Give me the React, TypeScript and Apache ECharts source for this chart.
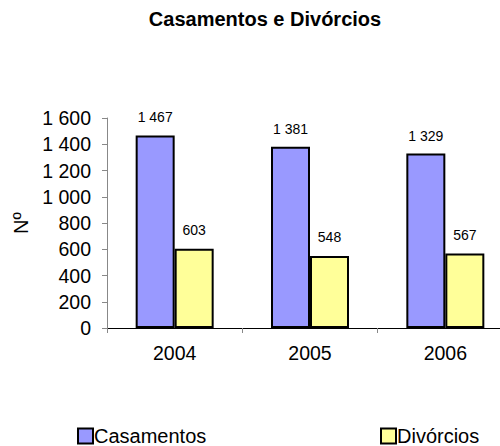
import React, { useEffect, useRef } from "react";
import * as echarts from "echarts";

const categories = ["2004", "2005", "2006"];
const casamentos = [1467, 1381, 1329];
const divorcios = [603, 548, 567];
const yTicks = { min: 0, max: 1600, interval: 200 };

const fmt = (v: number) => {
  const s = String(Math.round(v));
  return s.replace(/\B(?=(\d{3})+(?!\d))/g, " ");
};

export default function App() {
  const ref = useRef<HTMLDivElement>(null);
  useEffect(() => {
    const chart = echarts.init(ref.current!, null, { renderer: "svg" });
    const font = "Arial, 'Liberation Sans', sans-serif";
    const legendCommon = {
      top: 426,
      padding: 0,
      itemWidth: 15,
      itemHeight: 15,
      icon: "rect",
      textStyle: {
        fontSize: 20,
        lineHeight: 16,
        color: "#000",
        fontFamily: font,
        padding: [0, 0, 0, -4],
      },
    };
    chart.setOption({
      animation: false,
      backgroundColor: "#ffffff",
      textStyle: { fontFamily: font },
      title: {
        text: "Casamentos e Divórcios",
        left: 265,
        textAlign: "center",
        top: 9,
        padding: 0,
        textStyle: { fontSize: 20, fontWeight: "bold", color: "#000", fontFamily: font },
      },
      legend: [
        { ...legendCommon, data: ["Casamentos"], left: 77 },
        { ...legendCommon, data: ["Divórcios"], left: 380 },
      ],
      grid: {
        left: 107,
        width: 406,
        top: 118,
        height: 210,
        containLabel: false,
        outerBoundsMode: "none",
      },
      xAxis: {
        type: "category",
        data: categories,
        axisLine: { lineStyle: { color: "#000", width: 1 } },
        axisTick: { show: true, length: 5, lineStyle: { color: "#888" } },
        axisLabel: { fontSize: 19.5, color: "#000", margin: 15, fontFamily: font },
      },
      yAxis: {
        type: "value",
        min: yTicks.min,
        max: yTicks.max,
        interval: yTicks.interval,
        name: "Nº",
        nameLocation: "middle",
        nameGap: 76,
        nameRotate: 90,
        nameTextStyle: { fontSize: 20, color: "#000", fontFamily: font },
        splitLine: { show: false },
        axisLine: { show: true, lineStyle: { color: "#888" } },
        axisTick: { show: true, length: 5, lineStyle: { color: "#888" } },
        axisLabel: {
          fontSize: 19.5,
          color: "#000",
          margin: 16,
          fontFamily: font,
          formatter: (v: number) => fmt(v),
        },
      },
      series: [
        {
          name: "Casamentos",
          type: "bar",
          data: casamentos,
          barWidth: 39,
          barGap: "0%",
          itemStyle: { color: "#9999FF", borderColor: "#000", borderWidth: 2 },
          label: {
            show: true,
            position: "top",
            distance: 11,
            fontSize: 14,
            color: "#000",
            fontFamily: font,
            formatter: (p: any) => fmt(p.value),
          },
        },
        {
          name: "Divórcios",
          type: "bar",
          data: divorcios,
          barWidth: 39,
          barGap: "0%",
          itemStyle: { color: "#FFFF99", borderColor: "#000", borderWidth: 2 },
          label: {
            show: true,
            position: "top",
            distance: 12,
            fontSize: 14,
            color: "#000",
            fontFamily: font,
            formatter: (p: any) => fmt(p.value),
          },
        },
      ],
    });
    return () => chart.dispose();
  }, []);
  return (
    <div
      ref={ref}
      style={{ width: 500, height: 446, position: "absolute", left: 0, top: 0 }}
    />
  );
}
